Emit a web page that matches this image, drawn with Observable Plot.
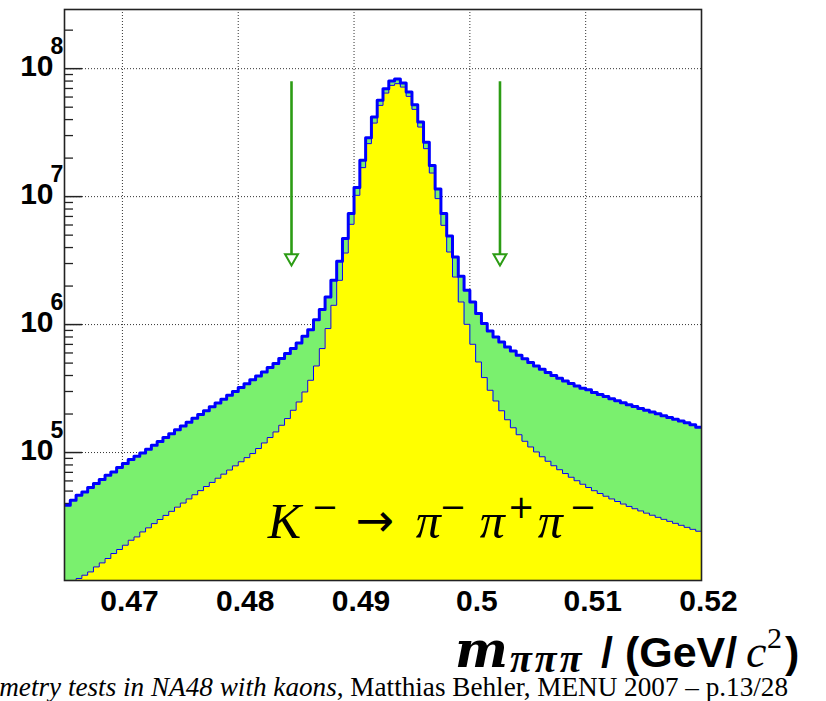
<!DOCTYPE html>
<html>
<head>
<meta charset="utf-8">
<script src="https://cdn.jsdelivr.net/npm/d3@7"></script>
<script src="https://cdn.jsdelivr.net/npm/@observablehq/plot@0.6"></script>
<style>
  html, body { margin: 0; padding: 0; background: #fff; }
  #chart svg { display: block; }
</style>
</head>
<body>
<div id="chart"></div>
<script>
// ---- data -------------------------------------------------------------
const binLow = 0.465;
const binWidth = 0.0005;

// total (blue outline, green fill)
const totalCounts = [
  38800, 42400, 46400, 49200, 53300, 57300, 61500, 66500, 70500, 76400,
  82100, 88200, 93600, 99300, 106300, 114000, 122100, 131000, 140300, 150400,
  161100, 172500, 185000, 198200, 212500, 227500, 244100, 261400, 280300, 300200,
  322000, 345300, 370500, 396700, 426400, 461500, 495900, 542500, 593500, 649400,
  718200, 810000, 911000, 1090000, 1310000, 1643000, 2219000, 3123000, 4697000, 7370000,
  11760000, 19210000, 28900000, 41870000, 56530000, 69800000, 80000000, 83000000, 77200000, 65700000,
  52330000, 38260000, 26560000, 17470000, 11470000, 7370000, 4922000, 3375000, 2384000, 1854000,
  1502000, 1219000, 1018000, 891000, 800000, 731000, 668000, 622000, 576000, 540500,
  504900, 474900, 447600, 421700, 399600, 380600, 362500, 346500, 331300, 317800,
  309400, 294200, 283800, 273800, 263200, 253900, 244900, 236200, 228800, 221100,
  214100, 207300, 200700, 194300, 188100, 182100, 176300, 170600, 165200, 157700
];

// selected (yellow fill, thin blue outline)
const signalCounts = [
  9700, 9870, 10370, 11000, 11670, 12770, 13730, 14860, 16250, 17470,
  18870, 20640, 21910, 23970, 25800, 27830, 29970, 32260, 34720, 37450,
  40320, 43400, 46800, 50390, 54260, 58400, 63000, 67800, 73020, 78740,
  84750, 91250, 98200, 107500, 118900, 131000, 144900, 163400, 184300, 214100,
  248500, 297500, 367200, 474900, 649400, 931000, 1415000, 2219000, 3626000, 6077000,
  10240000, 16850000, 25950000, 37580000, 51670000, 64480000, 74040000, 76340000, 71830000, 60770000,
  48080000, 34980000, 23710000, 15290000, 9650000, 5968000, 3692000, 2354000, 1502000, 1005000,
  701800, 510400, 385300, 306700, 253000, 212100, 180400, 156200, 137800, 122500,
  110600, 101100, 92700, 85500, 78880, 73400, 68530, 64120, 60220, 56550,
  53300, 50310, 47830, 45560, 43400, 41420, 39600, 37920, 36380, 34970,
  33620, 32370, 31170, 30070, 29010, 27980, 27000, 26030, 25120, 24280
];

const xDomain = [0.465, 0.52];
const yDomain = [1e4, 2.9e8];
const xTicks = [0.47, 0.48, 0.49, 0.5, 0.51, 0.52];
const xTickLabels = ["0.47", "0.48", "0.49", "0.5", "0.51", "0.52"];
const yDecades = [1e5, 1e6, 1e7, 1e8];
const yExponents = ["5", "6", "7", "8"];
const yMinorMultipliers = [2, 3, 4, 5, 6, 7, 8, 9];
const yMinorDecades = [1e4, 1e5, 1e6, 1e7, 1e8];
const cutPositions = [0.4846, 0.5026];
const arrowTop = 7.9e7;
const arrowTip = 2.9e6;
const decayLabelPos = {x: 0.4826, y: 2.14e4};

// ---- derived ----------------------------------------------------------
function stepPoints(counts) {
  const pts = [];
  counts.forEach((c, i) => {
    const x0 = binLow + i * binWidth;
    pts.push({x: x0, y: c}, {x: x0 + binWidth, y: c});
  });
  return pts;
}
const totalSteps = stepPoints(totalCounts);
const signalSteps = stepPoints(signalCounts);
const yMinor = yMinorDecades.flatMap(d => yMinorMultipliers.map(m => d * m)).filter(v => v <= yDomain[1]);
const plotW = 826 - 64 - 125;

const green = "#7af06e";
const arrowGreen = "#2c9c14";

const chart = Plot.plot({
  width: 826,
  height: 701,
  marginLeft: 64,
  marginRight: 125,
  marginTop: 9,
  marginBottom: 121,
  style: {fontFamily: "'Liberation Sans', Arial, Helvetica, sans-serif", background: "#fff", color: "#000"},
  x: {domain: xDomain, axis: null},
  y: {type: "log", domain: yDomain, axis: null},
  marks: [
    Plot.gridX(xTicks.slice(0, 5), {stroke: "#333", strokeOpacity: 1, strokeDasharray: "1,2"}),
    Plot.gridY(yDecades, {stroke: "#333", strokeOpacity: 1, strokeDasharray: "1,2"}),
    Plot.tickY(yMinor, {y: d => d, insetRight: plotW - 9, stroke: "#222", strokeWidth: 1.3}),
    Plot.tickY(yDecades, {y: d => d, insetRight: plotW - 18, stroke: "#222", strokeWidth: 1.5}),
    Plot.areaY(totalSteps, {x: "x", y1: yDomain[0], y2: "y", fill: green, clip: true}),
    Plot.areaY(signalSteps, {x: "x", y1: yDomain[0], y2: "y", fill: "#ffff00", clip: true}),
    Plot.line(signalSteps, {x: "x", y: "y", stroke: "#0000ff", strokeWidth: 1, clip: true}),
    Plot.line(totalSteps, {x: "x", y: "y", stroke: "#0000ff", strokeWidth: 3, clip: true}),
    Plot.frame({stroke: "#222", strokeWidth: 1.6}),
    Plot.ruleX(cutPositions, {x: d => d, y1: arrowTop, y2: arrowTip, stroke: arrowGreen, strokeWidth: 2.6}),
    Plot.dot(cutPositions, {x: d => d, y: arrowTip, symbol: "triangle", rotate: 180, r: 4.8, fill: "#fff", stroke: arrowGreen, strokeWidth: 2, dy: -7.5}),
    Plot.text(yDecades, {y: d => d, frameAnchor: "left", text: () => "10", textAnchor: "end", lineAnchor: "bottom", dx: -11, dy: 7, fontSize: 30, fontWeight: "bold", fill: "#000"}),
    Plot.text(yDecades, {y: d => d, frameAnchor: "left", text: (d, i) => yExponents[i], textAnchor: "start", lineAnchor: "bottom", dx: -14, dy: -15, fontSize: 23, fontWeight: "bold", fill: "#000"}),
    Plot.text(xTicks, {x: d => d, frameAnchor: "bottom", text: (d, i) => xTickLabels[i], lineAnchor: "bottom", dx: 7, dy: 30, fontSize: 30, fontWeight: "bold", fill: "#000"})
  ]
});

document.getElementById("chart").appendChild(chart);

// ---- rich-text annotations --------------------------------------------
const sx = chart.scale("x"), sy = chart.scale("y");
const svg = d3.select(chart);
const serif = "'Liberation Serif', 'Times New Roman', serif";
const sans = "'Liberation Sans', Arial, sans-serif";
const symbolFont = "'DejaVu Sans', sans-serif";

// decay label  K⁻ → π⁻π⁺π⁻
{
  const x0 = sx.apply(decayLabelPos.x), y0 = sy.apply(decayLabelPos.y);
  const t = svg.append("text").attr("fill", "#000").attr("text-anchor", "start");
  const parts = [
    {s: "K", off: 0, kind: "main"},
    {s: "\u2212", off: 44, kind: "sup"},
    {s: "\u2192", off: 88, kind: "arrow"},
    {s: "\u03c0", off: 148, kind: "main"},
    {s: "\u2212", off: 172, kind: "sup"},
    {s: "\u03c0", off: 212, kind: "main"},
    {s: "+", off: 240, kind: "sup"},
    {s: "\u03c0", off: 270, kind: "main"},
    {s: "\u2212", off: 302, kind: "sup"}
  ];
  parts.forEach(p => {
    const ts = t.append("tspan").attr("x", x0 + p.off).text(p.s);
    if (p.kind === "main") ts.attr("y", y0).attr("font-family", serif).attr("font-style", "italic").attr("font-size", 50);
    else if (p.kind === "arrow") ts.attr("y", y0 - 2).attr("font-family", symbolFont).attr("font-size", 46);
    else ts.attr("y", y0 - 20).attr("font-family", symbolFont).attr("font-size", 32);
  });
}

// x-axis title  m_πππ / (GeV/c²)
{
  const t = svg.append("text").attr("fill", "#000").attr("text-anchor", "start");
  t.append("tspan").attr("x", 455).attr("y", 667).attr("font-family", "'DejaVu Serif', serif").attr("font-weight", "bold").attr("font-style", "italic").attr("font-size", 50).text("m");
  t.append("tspan").attr("x", 510).attr("y", 672).attr("font-family", serif).attr("font-weight", "bold").attr("font-style", "italic").attr("font-size", 40).attr("letter-spacing", 3).text("\u03c0\u03c0\u03c0");
  t.append("tspan").attr("x", 601).attr("y", 667).attr("font-family", sans).attr("font-weight", "bold").attr("font-size", 43).attr("letter-spacing", 0).text("/ (GeV/");
  t.append("tspan").attr("x", 746).attr("y", 667).attr("font-family", serif).attr("font-style", "italic").attr("font-size", 46).text("c");
  t.append("tspan").attr("x", 767).attr("y", 648).attr("font-family", serif).attr("font-size", 30).text("2");
  t.append("tspan").attr("x", 785).attr("y", 667).attr("font-family", sans).attr("font-weight", "bold").attr("font-size", 43).text(")");
}

// slide footer
{
  const t = svg.append("text")
    .attr("x", 788).attr("y", 696)
    .attr("text-anchor", "end")
    .attr("font-family", serif)
    .attr("font-size", 27.2).attr("fill", "#000");
  t.append("tspan").attr("font-style", "italic").text("metry tests in NA48 with kaons");
  t.append("tspan").text(", Matthias Behler, MENU 2007 \u2013 p.13/28");
}
</script>
</body>
</html>
